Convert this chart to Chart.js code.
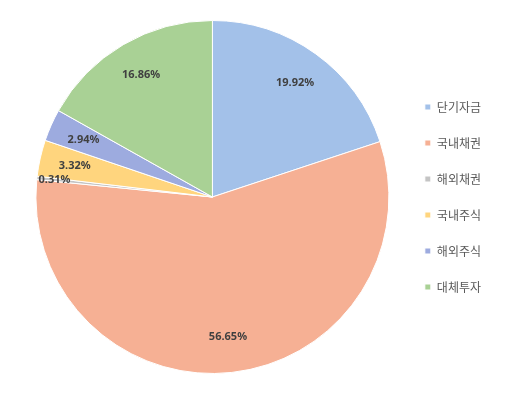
<!DOCTYPE html>
<html>
<head>
<meta charset="utf-8">
<script src="https://cdn.jsdelivr.net/npm/chart.js@4"></script>
<style>
  html, body { margin: 0; padding: 0; background: #fff; }
  #wrap { width: 531px; height: 402px; }
</style>
</head>
<body>
<div id="wrap"><canvas id="myChart"></canvas></div>
<script>
const categories = ["단기자금", "국내채권", "해외채권", "국내주식", "해외주식", "대체투자"];
const shares = [19.92, 56.65, 0.31, 3.32, 2.94, 16.86];
const colors = ["#a3c1e9", "#f6b094", "#c4c4c4", "#ffd57e", "#9dabdf", "#a9d195"];

const pieLabels = {
  id: 'pieLabels',
  afterDatasetsDraw(chart) {
    const { ctx } = chart;
    const meta = chart.getDatasetMeta(0);
    ctx.save();
    ctx.font = 'bold 11px "Noto Sans", sans-serif';
    ctx.fillStyle = '#404040';
    ctx.textAlign = 'center';
    ctx.textBaseline = 'middle';
    meta.data.forEach((arc, i) => {
      const mid = (arc.startAngle + arc.endAngle) / 2;
      const r = arc.outerRadius * (shares[i] < 1 ? 0.9 : 0.8);
      const x = arc.x + Math.cos(mid) * r;
      const y = arc.y + Math.sin(mid) * r;
      ctx.fillText(shares[i].toFixed(2) + '%', x, y);
    });
    ctx.restore();
  }
};

new Chart(document.getElementById('myChart'), {
  type: 'pie',
  plugins: [pieLabels],
  data: {
    labels: categories,
    datasets: [{
      data: shares,
      backgroundColor: colors,
      borderColor: '#ffffff',
      borderWidth: 1,
    }],
  },
  options: {
    responsive: true,
    maintainAspectRatio: false,
    animation: false,
    layout: { padding: { top: 20, bottom: 28, left: 24, right: 40 } },
    plugins: {
      tooltip: { enabled: false },
      legend: {
        position: 'right',
        labels: {
          boxWidth: 6,
          boxHeight: 6,
          padding: 24,
          color: '#595959',
          font: { size: 12, family: '"Noto Sans CJK KR", sans-serif' },
        },
      },
    },
  },
});
</script>
</body>
</html>
